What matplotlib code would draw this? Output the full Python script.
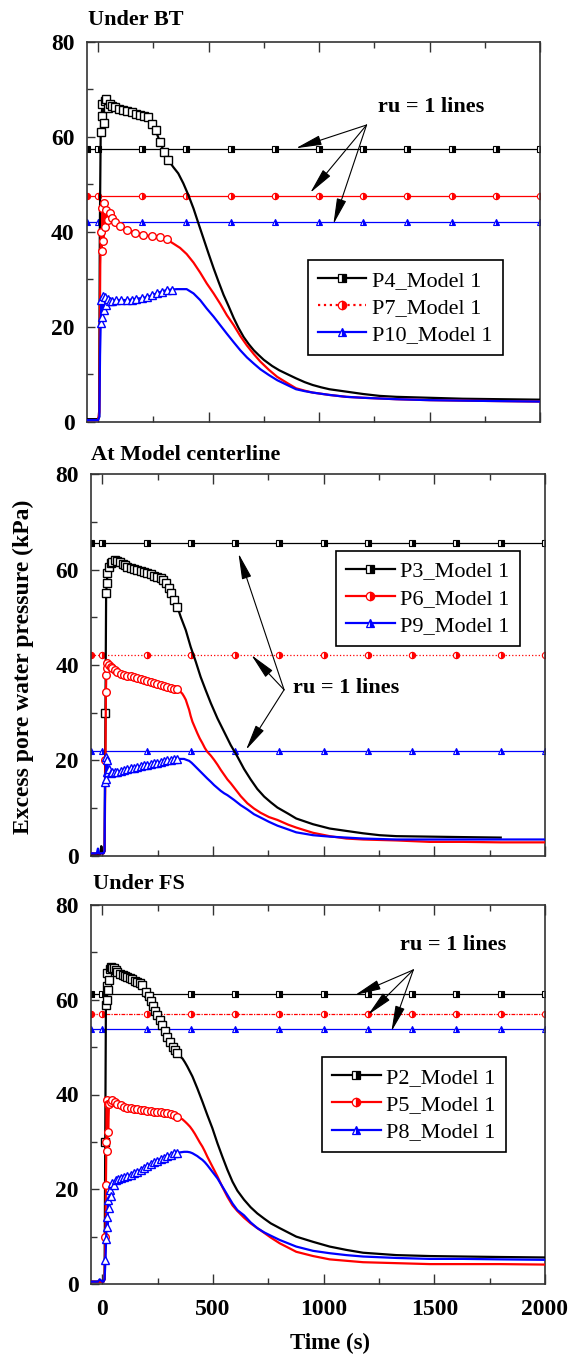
import numpy as np
import matplotlib.pyplot as plt
from matplotlib.lines import Line2D
from matplotlib.ticker import MultipleLocator

plt.rcParams['font.family'] = ['Liberation Serif', 'DejaVu Serif']
plt.rcParams['font.weight'] = 'bold'

# x positions of the markers on the ru = 1 lines
t_ref = [-50, 0, 200, 400, 600, 800, 1000, 1200, 1400, 1600, 1800, 2000]

# ---- Under BT : (time s, excess pore pressure kPa)
p4 = [(-50, 0.5), (0, 0.5), (5, 1.0), (8, 40), (12, 61), (16, 64.5), (20, 67), (25, 63), (30, 67.5),
      (38, 68), (45, 66), (53, 67), (65, 66.5), (76, 66.3), (95, 65.8), (114, 65.6), (133, 65.4),
      (152, 65.2), (170, 64.9), (189, 64.7), (207, 64.4), (224, 64.1), (242, 62.8), (260, 61.4),
      (280, 59.0), (298, 56.9), (318, 55.1), (341, 53.6), (363, 52.3), (386, 50.2), (409, 47.7),
      (432, 44.9), (454, 41.8), (477, 38.6), (500, 35.4), (523, 32.3), (545, 29.5), (568, 26.7),
      (591, 24.3), (614, 21.8), (636, 19.7), (659, 17.8), (682, 16.3), (705, 15.0), (727, 14.0),
      (750, 13.0), (788, 11.7), (820, 10.8), (860, 9.9), (896, 9.1), (935, 8.3), (971, 7.7),
      (1010, 7.2), (1047, 6.8), (1123, 6.3), (1199, 5.8), (1274, 5.4), (1350, 5.2), (1500, 5.0),
      (1650, 4.8), (1820, 4.7), (2000, 4.6)]
p7 = [(-50, 0.3), (0, 0.3), (6, 2), (8, 20), (10, 33), (13, 40), (16, 36), (20, 45), (24, 38), (28, 46),
      (33, 41), (38, 44.5), (45, 42.5), (53, 43.9), (65, 42.8), (76, 42.1), (98, 41.2), (129, 40.4),
      (167, 39.8), (204, 39.3), (242, 39.1), (280, 38.8), (310, 38.4), (341, 37.5), (371, 36.6),
      (401, 35.3), (432, 33.5), (462, 31.4), (492, 29.1), (523, 27.0), (553, 24.8), (583, 22.4),
      (614, 20.3), (644, 18.0), (674, 16.0), (705, 14.2), (735, 12.6), (773, 10.9), (811, 9.4),
      (860, 8.0), (896, 7.0), (935, 6.5), (971, 6.1), (1047, 5.6), (1123, 5.2), (1199, 5.0),
      (1350, 4.7), (1500, 4.5), (1650, 4.4), (1820, 4.3), (2000, 4.2)]
p10 = [(-50, 0.3), (0, 0.3), (6, 1), (9, 14), (12, 20.7), (15, 25.6), (19, 22), (23, 26.5), (27, 23.5),
       (32, 26.3), (38, 24.5), (45, 25.8), (53, 25.3), (65, 25.5), (83, 25.6), (105, 25.6), (129, 25.6),
       (152, 25.7), (174, 25.9), (197, 26.0), (220, 26.2), (243, 26.6), (265, 27.0), (288, 27.4),
       (310, 27.7), (333, 27.8), (356, 27.9), (378, 27.9), (401, 27.9), (432, 27.0), (462, 25.6),
       (492, 23.8), (523, 22.1), (553, 20.3), (583, 18.5), (614, 16.7), (644, 15.0), (674, 13.5),
       (705, 12.2), (735, 11.0), (773, 9.8), (811, 8.7), (860, 7.6), (896, 6.8), (935, 6.4), (971, 6.1),
       (1047, 5.6), (1123, 5.2), (1199, 5.0), (1350, 4.7), (1500, 4.5), (1650, 4.4), (1820, 4.3),
       (2000, 4.2)]
ru_bt = [57.5, 47.5, 42.0]
labels_bt = ['P4_Model 1', 'P7_Model 1', 'P10_Model 1']

# ---- At model centerline
p3 = [(-50, 0.3), (-10, 0.3), (-5, 2.0), (0, 0.5), (5, 0.5), (10, 1), (14, 30), (17, 55), (20, 57.1),
      (23, 59.2), (30, 60.6), (38, 61.3), (45, 61.7), (56, 62.0), (68, 61.9), (80, 61.5), (91, 61.2),
      (102, 60.9), (113, 60.6), (128, 60.3), (143, 60.1), (158, 59.9), (173, 59.7), (188, 59.5),
      (203, 59.4), (218, 59.0), (233, 58.7), (248, 58.5), (263, 58.2), (275, 57.8), (286, 57.1),
      (301, 56.1), (312, 55.0), (324, 53.6), (339, 52.2), (354, 50.1), (377, 47.3), (399, 43.8),
      (422, 40.7), (444, 37.5), (467, 34.7), (490, 32.0), (520, 28.8), (550, 26.0), (580, 23.2),
      (610, 20.8), (640, 18.2), (670, 16.0), (700, 14.0), (731, 12.4), (761, 11.2), (791, 10.1),
      (840, 8.8), (876, 7.8), (952, 6.6), (1027, 5.7), (1102, 5.2), (1178, 4.7), (1253, 4.3),
      (1328, 4.1), (1479, 4.0), (1630, 3.9), (1800, 3.8)]
p6 = [(-50, 0.5), (0, 0.5), (5, 0.5), (10, 1), (14, 20), (16, 34.4), (18, 38), (20, 40.5), (23, 39.3),
      (30, 40.0), (38, 39.6), (45, 39.3), (56, 38.9), (68, 38.6), (83, 38.2), (98, 37.9), (113, 37.7),
      (128, 37.6), (143, 37.4), (158, 37.2), (173, 37.0), (188, 36.9), (203, 36.6), (218, 36.4),
      (233, 36.2), (248, 36.0), (263, 35.8), (278, 35.6), (294, 35.4), (309, 35.2), (324, 35.0),
      (339, 34.9), (350, 34.5), (361, 34.0), (369, 33.4), (377, 32.7), (384, 31.7), (392, 30.6),
      (399, 29.3), (407, 28.1), (418, 26.9), (429, 25.7), (440, 24.6), (452, 23.6), (463, 22.6),
      (474, 21.8), (490, 21.0), (505, 20.1), (520, 19.1), (535, 18.0), (550, 17.0), (565, 16.0),
      (580, 15.2), (595, 14.3), (610, 13.4), (625, 12.5), (655, 11.0), (685, 9.9), (715, 9.0),
      (753, 8.1), (791, 7.5), (840, 6.5), (876, 5.9), (952, 4.8), (1027, 4.1), (1102, 3.6),
      (1178, 3.4), (1328, 3.2), (1479, 2.9), (1630, 2.9), (1800, 2.8), (2000, 2.8)]
p9 = [(-50, 0.5), (-25, 0.5), (-20, 1.5), (-15, 0.5), (0, 0.5), (5, 0.5), (10, 1), (12, 15.5), (15, 16),
      (18, 20.8), (20, 17.5), (22, 20), (25, 17.5), (30, 18.2), (38, 17.3), (45, 17.5), (56, 17.5),
      (68, 17.6), (83, 17.8), (98, 18.0), (113, 18.2), (128, 18.3), (143, 18.5), (158, 18.7),
      (173, 18.8), (188, 19.0), (203, 19.1), (218, 19.2), (233, 19.4), (248, 19.5), (263, 19.7),
      (278, 19.8), (294, 20.0), (309, 20.1), (324, 20.2), (339, 20.3), (354, 20.3), (369, 20.3),
      (380, 20.1), (392, 19.9), (403, 19.5), (414, 19.0), (429, 18.3), (444, 17.6), (459, 16.9),
      (474, 16.2), (490, 15.5), (505, 14.8), (520, 14.2), (535, 13.6), (550, 13.1), (565, 12.7),
      (595, 11.7), (625, 10.6), (655, 9.7), (685, 8.7), (715, 8.0), (753, 7.1), (791, 6.3),
      (840, 5.5), (876, 4.9), (952, 4.3), (1027, 4.0), (1102, 3.8), (1178, 3.6), (1328, 3.4),
      (1479, 3.4), (1630, 3.4), (1800, 3.4), (2000, 3.4)]
ru_cl = [65.5, 42.0, 22.0]
labels_cl = ['P3_Model 1', 'P6_Model 1', 'P9_Model 1']

# ---- Under FS
p2 = [(-50, 0.5), (0, 0.5), (5, 0.5), (10, 1), (13, 30), (16, 58.9), (19, 63), (21, 60), (23, 65.6),
      (26, 62), (30, 64.2), (34, 66.5), (38, 67.0), (45, 66.6), (53, 66.8), (60, 66.3), (68, 65.9),
      (80, 65.5), (91, 65.2), (102, 65.0), (113, 64.9), (125, 64.6), (136, 64.3), (147, 64.0),
      (158, 63.8), (170, 63.5), (181, 63.1), (196, 61.7), (211, 60.7), (221, 59.7), (231, 58.6),
      (240, 57.7), (249, 56.8), (260, 55.8), (271, 54.7), (283, 53.4), (294, 52.2), (305, 51.1),
      (317, 50.1), (328, 49.4), (339, 48.7), (350, 48.1), (362, 47.6), (373, 46.8), (384, 45.9),
      (407, 43.8), (429, 41.3), (452, 38.5), (474, 35.7), (497, 32.9), (520, 29.7), (542, 26.9),
      (565, 24.1), (588, 21.6), (610, 19.7), (640, 17.8), (670, 16.2), (700, 14.9), (731, 13.8),
      (761, 12.8), (801, 11.8), (876, 10.0), (952, 8.9), (1027, 7.9), (1102, 7.2), (1178, 6.6),
      (1328, 6.1), (1479, 5.9), (1630, 5.8), (1796, 5.7), (2000, 5.6)]
p5 = [(-50, 0.5), (0, 0.5), (5, 0.5), (10, 1), (14, 10), (16, 20.9), (18, 30), (20, 38.8), (22, 28),
      (24, 38), (26, 32), (30, 38.1), (38, 38.5), (45, 38.8), (56, 38.4), (68, 38.1), (83, 37.7),
      (98, 37.4), (113, 37.2), (128, 37.1), (143, 37.0), (158, 36.9), (173, 36.8), (188, 36.7),
      (203, 36.6), (218, 36.5), (233, 36.4), (248, 36.4), (263, 36.3), (278, 36.2), (294, 36.1),
      (309, 35.9), (324, 35.6), (339, 35.3), (350, 35.0), (361, 34.8), (373, 34.3), (384, 33.8),
      (396, 33.2), (407, 32.5), (418, 31.7), (429, 30.8), (440, 29.9), (452, 29.0), (463, 28.0),
      (474, 26.9), (497, 24.8), (520, 22.7), (542, 20.5), (565, 18.4), (588, 16.6), (610, 15.4),
      (640, 14.0), (670, 12.8), (700, 11.8), (731, 10.8), (761, 9.8), (801, 8.6), (876, 6.8),
      (952, 5.9), (1027, 5.2), (1102, 4.9), (1178, 4.6), (1328, 4.4), (1479, 4.2), (1630, 4.2),
      (1796, 4.2), (2000, 4.1)]
p8 = [(-50, 0.5), (-20, 0.5), (-12, 1.0), (0, 0.5), (5, 0.5), (10, 1), (14, 5), (17, 9.4), (20, 14.2),
      (23, 12), (26, 17.7), (30, 16), (34, 19.8), (40, 18.5), (45, 21.3), (53, 21.0), (61, 22.0),
      (72, 22.2), (83, 22.3), (98, 22.5), (113, 22.8), (128, 23.1), (143, 23.4), (158, 23.7),
      (173, 24.1), (188, 24.5), (203, 24.9), (218, 25.3), (233, 25.7), (248, 26.0), (263, 26.4),
      (278, 26.7), (294, 27.0), (309, 27.3), (324, 27.6), (339, 27.7), (354, 27.8), (369, 27.9),
      (384, 27.9), (396, 27.8), (407, 27.6), (418, 27.3), (429, 27.0), (440, 26.6), (452, 26.2),
      (463, 25.7), (474, 25.1), (497, 23.7), (520, 22.3), (542, 20.6), (565, 18.8), (588, 17.0),
      (610, 15.6), (640, 14.5), (670, 13.0), (700, 11.8), (731, 10.9), (761, 10.2), (801, 9.3),
      (876, 7.9), (952, 7.0), (1027, 6.5), (1102, 6.1), (1178, 5.8), (1328, 5.5), (1479, 5.3),
      (1630, 5.3), (1796, 5.2), (2000, 5.1)]
ru_fs = [61.3, 57.0, 53.8]
labels_fs = ['P2_Model 1', 'P5_Model 1', 'P8_Model 1']

colors = ['black', '#ff0000', '#0000ff']
markers = ['s', 'o', '^']


def draw_panel(ax, curves, ru, ru_styles, labels, leg_styles, leg_xy, note_xy, arrow_from, arrow_tips):
    # measured curves, markers only on the dense early part of the record
    for data, c, m in zip(curves, colors, markers):
        d = np.array(data)
        t, y = d[:, 0], d[:, 1]
        idx = list(np.where((t >= 12) & (t <= 340))[0])
        ax.plot(t, y, color=c, lw=1.6, marker=m, ms=5.5, mfc='white', mec=c, mew=1.0,
                markevery=idx, zorder=3)
    # ru = 1 lines
    for r, c, m, ls in zip(ru, colors, markers, ru_styles):
        ax.plot(t_ref, [r] * len(t_ref), color=c, lw=0.9, ls=ls, marker=m, ms=4.5,
                fillstyle='right', mfc=c, mfcalt='white', mec=c, mew=0.8, zorder=2)

    handles = [Line2D([0], [0], color=c, lw=1.6, ls=ls, marker=m, ms=6, fillstyle='right',
                      mfc=c, mfcalt='white', mec=c, mew=0.9)
               for c, m, ls in zip(colors, markers, leg_styles)]
    leg = ax.legend(handles, labels, loc='upper left', bbox_to_anchor=leg_xy, borderaxespad=0,
                    prop={'size': 16, 'weight': 'normal'}, fancybox=False, edgecolor='black',
                    framealpha=1, borderpad=0.45, labelspacing=0.3, handlelength=2.2,
                    handletextpad=0.25, numpoints=1)
    leg.get_frame().set_linewidth(1.2)
    leg.set_zorder(5)

    ax.text(note_xy[0], note_xy[1], 'ru = 1 lines', fontsize=16, fontweight='bold',
            ha='left', va='center', zorder=6)
    for tip in arrow_tips:
        ax.annotate('', xy=tip, xytext=arrow_from,
                    arrowprops=dict(arrowstyle='-|>,head_length=1.6,head_width=0.3',
                                    mutation_scale=10, lw=0.8, color='black',
                                    shrinkA=0, shrinkB=0), zorder=6)

    ax.set_xlim(-50, 2000)
    ax.set_ylim(0, 80)
    ax.xaxis.set_major_locator(MultipleLocator(500))
    ax.xaxis.set_minor_locator(MultipleLocator(250))
    ax.yaxis.set_major_locator(MultipleLocator(20))
    ax.yaxis.set_minor_locator(MultipleLocator(10))
    ax.tick_params(which='both', direction='in', top=True, right=False, width=1, color='#333333')
    ax.tick_params(axis='x', which='major', length=7, labelsize=17, pad=11)
    ax.tick_params(axis='x', which='minor', length=4.5)
    ax.tick_params(axis='y', which='major', length=6, labelsize=17, pad=9)
    ax.tick_params(axis='y', which='minor', length=4.5)
    for s in ax.spines.values():
        s.set_linewidth(1.2)
        s.set_color('#333333')


fig = plt.figure(figsize=(5.74, 13.56), dpi=100)
W, H = 574.0, 1356.0


def box(l, r, t, b):
    return [l / W, 1 - b / H, (r - l) / W, (b - t) / H]


ax1 = fig.add_axes(box(87, 540, 42, 421.5))
ax2 = fig.add_axes(box(91.3, 545, 474.3, 855.7))
ax3 = fig.add_axes(box(91.3, 545, 905, 1284))

draw_panel(ax1, [p4, p7, p10], ru_bt, ['-', '-', '-'], labels_bt, ['-', ':', '-'],
           (0.487, 0.425), (1265, 66.3), (1215, 62.5), [(895, 57.6), (960, 48.2), (1065, 41.6)])
draw_panel(ax2, [p3, p6, p9], ru_cl, ['-', ':', '-'], labels_cl, ['-', '-', '-'],
           (0.539, 0.799), (861, 35.1), (821, 34.8), [(615, 63.4), (673, 42.1), (649, 22.2)])
draw_panel(ax3, [p2, p5, p8], ru_fs, ['-', (0, (3, 1, 1, 1)), '-'], labels_fs, ['-', '-', '-'],
           (0.508, 0.598), (1347, 71.6), (1405, 66.3), [(1142, 61.0), (1200, 56.8), (1306, 53.3)])

ax1.tick_params(labelbottom=False)
ax2.tick_params(labelbottom=False)

fig.text(88 / W, 1 - 20 / H, 'Under BT', fontsize=16, fontweight='bold', ha='left', va='center')
fig.text(91 / W, 1 - 455 / H, 'At Model centerline', fontsize=16, fontweight='bold', ha='left', va='center')
fig.text(93 / W, 1 - 884 / H, 'Under FS', fontsize=16, fontweight='bold', ha='left', va='center')
fig.text(23 / W, 1 - 667 / H, 'Excess pore water pressure (kPa)', fontsize=17, fontweight='bold',
         rotation=90, ha='center', va='center')
fig.text(330 / W, 1 - 1343 / H, 'Time (s)', fontsize=16.5, fontweight='bold', ha='center', va='center')

fig.savefig('out.png', dpi=100)
